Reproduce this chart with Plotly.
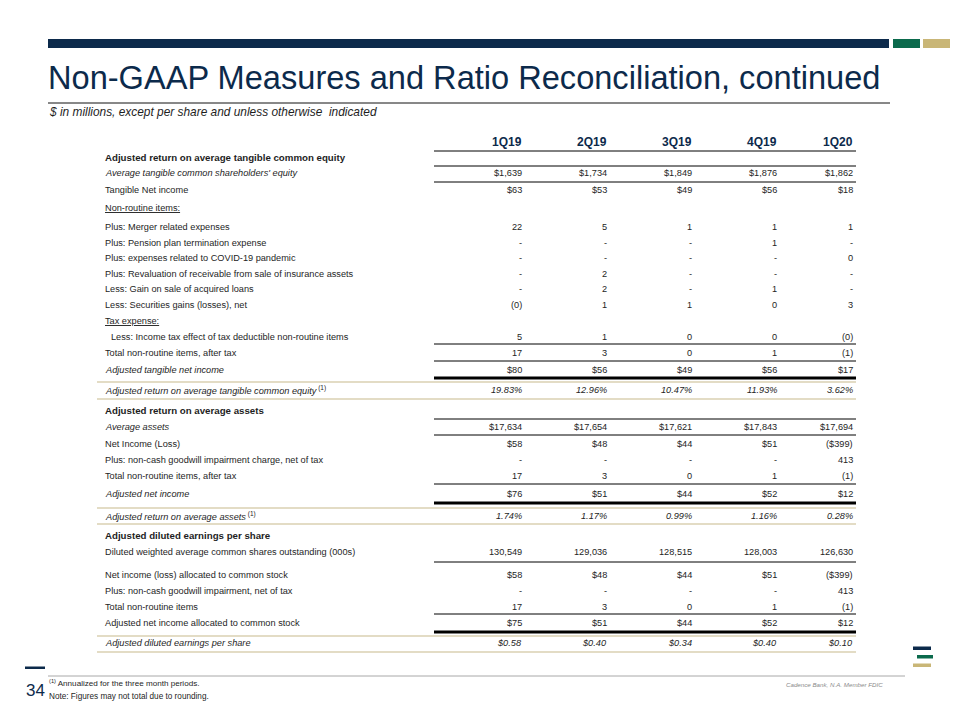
import plotly.graph_objects as go

# ---------------- data ----------------
quarters = ["1Q19", "2Q19", "3Q19", "4Q19", "1Q20"]

row_labels = [
    "Adjusted return on average tangible common equity",
    "Average tangible common shareholders' equity",
    "Tangible Net income",
    "Non-routine items:",
    "Plus: Merger related expenses",
    "Plus: Pension plan termination expense",
    "Plus: expenses related to COVID-19 pandemic",
    "Plus: Revaluation of receivable from sale of insurance assets",
    "Less: Gain on sale of acquired loans",
    "Less: Securities gains (losses), net",
    "Tax expense:",
    "Less: Income tax effect of tax deductible non-routine items",
    "Total non-routine items, after tax",
    "Adjusted tangible net income",
    "Adjusted return on average tangible common equity",
    "Adjusted return on average assets",
    "Average assets",
    "Net Income (Loss)",
    "Plus: non-cash goodwill impairment charge, net of tax",
    "Total non-routine items, after tax",
    "Adjusted net income",
    "Adjusted return on average assets",
    "Adjusted diluted earnings per share",
    "Diluted weighted average common shares outstanding (000s)",
    "Net income (loss) allocated to common stock",
    "Plus: non-cash goodwill impairment, net of tax",
    "Total non-routine items",
    "Adjusted net income allocated to common stock",
    "Adjusted diluted earnings per share",
]

# style: b = bold header, i = italic, i1 = italic ratio w/ footnote, iv = italic label+values,
# u = underlined, n = normal, ind = indented
row_styles = ["b", "i", "n", "u", "n", "n", "n", "n", "n", "n", "u", "ind", "n", "i",
              "i1", "b", "i", "n", "n", "n", "i", "i1", "b", "n", "n", "n", "n", "n", "iv"]

row_values = [
    None,
    ["$1,639", "$1,734", "$1,849", "$1,876", "$1,862"],
    ["$63", "$53", "$49", "$56", "$18"],
    None,
    ["22", "5", "1", "1", "1"],
    ["-", "-", "-", "1", "-"],
    ["-", "-", "-", "-", "0"],
    ["-", "2", "-", "-", "-"],
    ["-", "2", "-", "1", "-"],
    ["(0)", "1", "1", "0", "3"],
    None,
    ["5", "1", "0", "0", "(0)"],
    ["17", "3", "0", "1", "(1)"],
    ["$80", "$56", "$49", "$56", "$17"],
    ["19.83%", "12.96%", "10.47%", "11.93%", "3.62%"],
    None,
    ["$17,634", "$17,654", "$17,621", "$17,843", "$17,694"],
    ["$58", "$48", "$44", "$51", "($399)"],
    ["-", "-", "-", "-", "413"],
    ["17", "3", "0", "1", "(1)"],
    ["$76", "$51", "$44", "$52", "$12"],
    ["1.74%", "1.17%", "0.99%", "1.16%", "0.28%"],
    None,
    ["130,549", "129,036", "128,515", "128,003", "126,630"],
    ["$58", "$48", "$44", "$51", "($399)"],
    ["-", "-", "-", "-", "413"],
    ["17", "3", "0", "1", "(1)"],
    ["$75", "$51", "$44", "$52", "$12"],
    ["$0.58", "$0.40", "$0.34", "$0.40", "$0.10"],
]

# ---------------- layout geometry (slide pixel coordinates) ----------------
col_right = [524, 609, 694, 779, 855]
row_y = [157.5, 173, 189.5, 208, 227, 242.5, 258, 273.5, 289, 305, 320.5, 336.5, 353,
         369.5, 390, 410.5, 427, 444, 459.5, 475.5, 493.5, 515.5, 535.5, 552, 574.5,
         590.5, 606.5, 622.5, 643]
header_y = 142
label_x = 103
val_left = 434
thin_lines = [151, 166, 182, 344, 361, 419, 435, 484, 562, 614]
thick_lines = [378, 503, 632]
gold_lines = [382, 399, 508, 524, 636, 652]

NAVY = "#0c2a4b"
GREEN = "#0b6a4c"
GOLD = "#c9b677"
TAN = "#c8b98c"
TXT = "#1e1e1e"
FONT = "Liberation Sans, Arial"
SZ = 9.2
PAGE_OFF = 8  # page body margin of the html page

fig = go.Figure()
fig.add_trace(go.Scatter(x=[0, 960], y=[0, 720], mode="markers",
                         marker=dict(opacity=0), hoverinfo="skip", showlegend=False))

shapes = []
anns = []

def line(x0, x1, y, color, w):
    shapes.append(dict(type="line", xref="x", yref="y", x0=x0, x1=x1, y0=y, y1=y,
                       line=dict(color=color, width=w)))

def rect(x0, x1, y0, y1, color):
    shapes.append(dict(type="rect", xref="x", yref="y", x0=x0, x1=x1, y0=y0, y1=y1,
                       fillcolor=color, line=dict(width=0)))

def text(x, y, s, size=SZ, color=TXT, anchor="left", family=FONT):
    anns.append(dict(x=x, y=y, xref="x", yref="y", text=s, showarrow=False,
                     xanchor=anchor, yanchor="middle",
                     font=dict(family=family, size=size, color=color)))

# top band
rect(48, 889, 39, 48, NAVY)
rect(893, 920, 39, 48, GREEN)
rect(923, 950, 39, 48, GOLD)

# title
text(46, 77, "Non-GAAP Measures and Ratio Reconciliation, continued", size=32.6, color=NAVY)
line(48, 890, 103, "#111111", 1)
text(47, 112, "<i>$ in millions, except per share and unless otherwise  indicated</i>", size=11.9, color=TXT)

# table lines
for y in thin_lines:
    line(val_left, 856, y, "#000000", 1)
for y in thick_lines:
    line(val_left, 856, y, "#000000", 3)
for y in gold_lines:
    line(97, 856, y, TAN, 1.2)

# headers
for q, xr in zip(quarters, col_right):
    text(xr, header_y, "<b>" + q + "</b>", size=12, color=NAVY, anchor="right")

# rows
for lab, st, vals, y in zip(row_labels, row_styles, row_values, row_y):
    x = label_x
    size = SZ
    if st == "b":
        s = "<b>" + lab + "</b>"
        size = 9.7
    elif st in ("i", "iv"):
        s = "<i>" + lab + "</i>"
    elif st == "i1":
        s = "<i>" + lab + "</i><sup> (1)</sup>"
    elif st == "u":
        s = "<u>" + lab + "</u>"
    elif st == "ind":
        s = lab
        x = label_x + 6
    else:
        s = lab
    text(x, y, s, size=size)
    if vals:
        for v, xr in zip(vals, col_right):
            vs = "<i>" + v + "</i>" if st in ("i1", "iv") else v
            text(xr, y, vs, size=SZ, anchor="right")

# footer
rect(25, 45, 666.5, 669, NAVY)
line(48, 905, 676, "#a8a8a8", 1)
text(35, 690, "34", size=17, color=NAVY, anchor="center")
text(47, 683, "<sup>(1)</sup> Annualized for the three month periods.", size=8.1)
text(47, 696, "Note: Figures may not total due to rounding.", size=8.2)
text(885, 684, "<i>Cadence Bank, N.A. Member FDIC</i>", size=6.2, color="#8a8a8a", anchor="right")

# logo bars
rect(913, 931, 646.5, 650, NAVY)
rect(917, 933, 655, 658.5, GREEN)
rect(913, 931, 663.5, 667, GOLD)

fig.update_layout(
    width=960, height=720, margin=dict(l=0, r=0, t=0, b=0),
    paper_bgcolor="white", plot_bgcolor="white",
    xaxis=dict(range=[PAGE_OFF, 960 + PAGE_OFF], visible=False, fixedrange=True),
    yaxis=dict(range=[720 + PAGE_OFF, PAGE_OFF], visible=False, fixedrange=True),
    shapes=shapes, annotations=anns, showlegend=False,
)
fig.write_html("out.html")
